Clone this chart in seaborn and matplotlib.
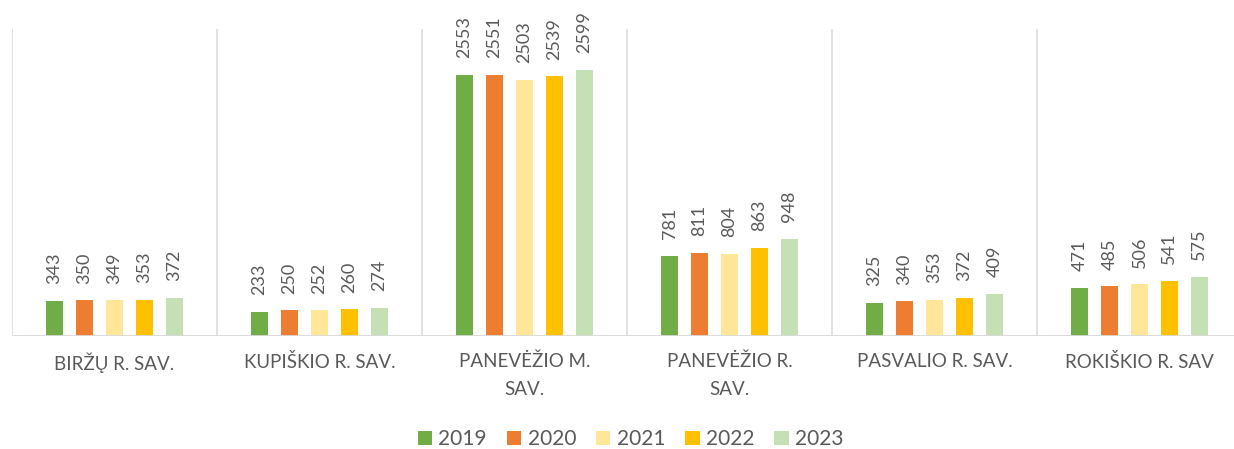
import matplotlib
matplotlib.use("Agg")
import matplotlib.pyplot as plt
import seaborn as sns
import pandas as pd

categories = ["BIRŽŲ R. SAV.", "KUPIŠKIO R. SAV.", "PANEVĖŽIO M.\nSAV.",
              "PANEVĖŽIO R.\nSAV.", "PASVALIO R. SAV.", "ROKIŠKIO R. SAV"]
years = ["2019", "2020", "2021", "2022", "2023"]
v2019 = [343, 233, 2553, 781, 325, 471]
v2020 = [350, 250, 2551, 811, 340, 485]
v2021 = [349, 252, 2503, 804, 353, 506]
v2022 = [353, 260, 2539, 863, 372, 541]
v2023 = [372, 274, 2599, 948, 409, 575]
colors = ["#70AD47", "#ED7D31", "#FFE699", "#FFC000", "#C5E0B4"]

series = [v2019, v2020, v2021, v2022, v2023]
rows = []
for y, vals in zip(years, series):
    for c, v in zip(categories, vals):
        rows.append({"cat": c, "year": y, "value": v})
df = pd.DataFrame(rows)

sns.set_theme(style="white")
plt.rcParams["font.family"] = ["Lato", "DejaVu Sans"]

fig = plt.figure(figsize=(12.34, 4.49), dpi=100)
ax = fig.add_axes([12/1234, (449-336)/449, 1230/1234, (336-29)/449])

sns.barplot(data=df, x="cat", y="value", hue="year", palette=colors,
            order=categories, hue_order=years, width=0.73, gap=0.45,
            saturation=1, linewidth=0, ax=ax, legend=True)

ax.set_ylim(0, 3000)
ax.set_xlim(-0.5, len(categories) - 0.5)
for s in ax.spines.values():
    s.set_visible(False)
ax.set_yticks([])
ax.set_xlabel("")
ax.set_ylabel("")

for b in range(len(categories) + 1):
    ax.axvline(b - 0.5, color="#D9D9D9", lw=1.1, zorder=0)
ax.axhline(0, color="#D9D9D9", lw=1.3, zorder=3)

for cont in ax.containers:
    ax.bar_label(cont, rotation=90, padding=12, color="#595959", fontsize=13)

ax.tick_params(axis="x", length=0, pad=12)
ax.set_xticks(range(len(categories)))
ax.set_xticklabels(categories, color="#595959", fontsize=13.5, linespacing=1.75)

leg = ax.legend(loc="center", bbox_to_anchor=(0.511, 0.022),
                bbox_transform=fig.transFigure, ncol=5, frameon=False,
                fontsize=15, handlelength=0.7, handleheight=0.7,
                handletextpad=0.3, columnspacing=0.95, title=None)
for t in leg.get_texts():
    t.set_color("#595959")

fig.savefig("out.png", dpi=100)
